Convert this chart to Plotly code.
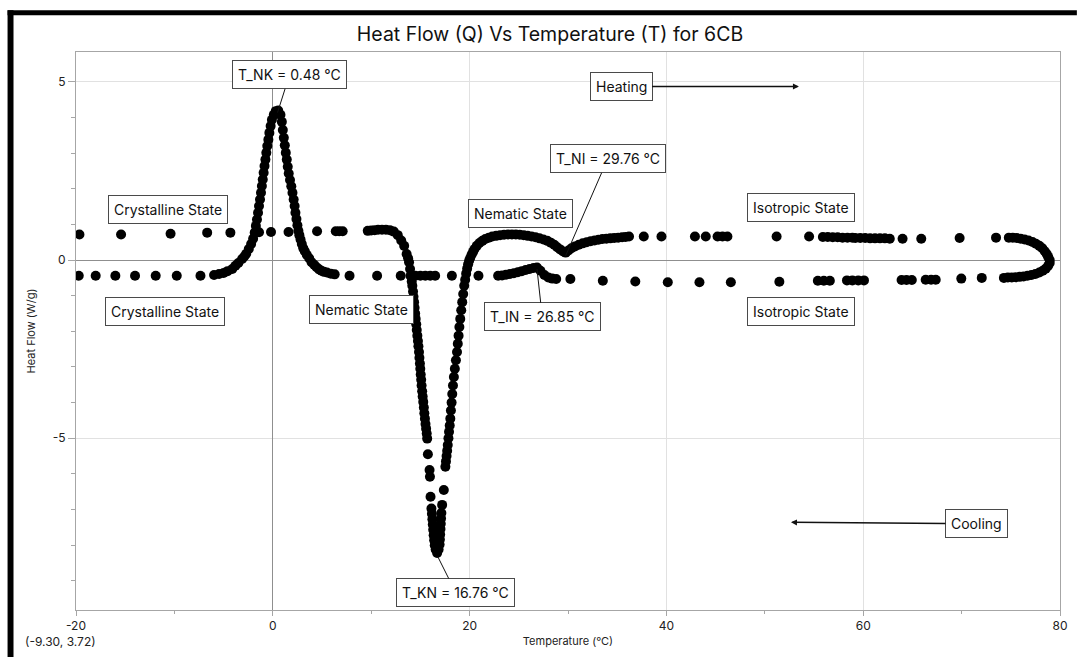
import plotly.graph_objects as go

# ---------------- data ----------------
heating_T = [
    -19.65, -15.42, -10.39, -6.67, -4.31, -1.40, -0.18, 1.60, 4.50, 6.40, 6.75, 7.10,
    9.65, 10.0, 10.35, 10.7, 11.1, 11.5, 11.9, 12.3, 12.7, 13.05, 13.35, 13.6, 13.75,
    13.85, 13.95, 14.05, 14.12, 14.18, 14.25, 14.3, 14.36, 14.41, 14.47, 14.52, 14.58,
    14.63, 14.69, 14.75, 14.8, 14.86, 14.9, 14.95, 14.99, 15.03, 15.08, 15.12, 15.18,
    15.23, 15.29, 15.35, 15.4, 15.46, 15.52, 15.58, 15.64, 15.69, 15.76, 15.93, 15.97,
    16.03, 16.12, 16.17, 16.22, 16.26, 16.3, 16.35, 16.4, 16.46, 16.55, 16.7, 16.85,
    16.95, 16.98, 17.01, 17.04, 17.07, 17.1, 17.13, 17.21, 17.38, 17.54, 17.6, 17.66,
    17.72, 17.78, 17.85, 17.91, 17.98, 18.04, 18.1, 18.17, 18.24, 18.31, 18.4, 18.5,
    18.61, 18.72, 18.8, 18.88, 18.96, 19.05, 19.15, 19.25, 19.35, 19.45, 19.55, 19.65,
    19.75, 19.85, 19.95, 20.06, 20.2, 20.35, 20.5, 20.73, 21.0, 21.3, 21.6, 21.95,
    22.3, 22.7, 23.1, 23.5, 23.9, 24.3, 24.7, 25.1, 25.5, 25.9, 26.3, 26.7, 27.1, 27.5,
    27.9, 28.25, 28.6, 28.9, 29.2, 29.5, 29.76, 30.05, 30.35, 30.7, 31.1, 31.5, 31.9,
    32.3, 32.7, 33.1, 33.5, 33.9, 34.3, 34.7, 35.1, 35.5, 35.85, 36.2, 37.7, 39.5,
    42.9, 44.0, 45.2, 45.7, 46.2, 51.2, 54.5, 55.9, 56.4, 56.9, 57.4, 57.9, 58.4, 58.9,
    59.2, 59.7, 60.2, 60.7, 61.2, 61.7, 62.2, 62.7, 64.0, 65.9, 69.8, 73.5, 74.8, 75.2,
    75.6, 76.0, 76.4, 76.8, 77.2, 77.55, 77.9, 78.2, 78.45, 78.65, 78.8, 78.95,
]
heating_Q = [
    0.72, 0.72, 0.74, 0.77, 0.77, 0.78, 0.79, 0.79, 0.81, 0.81, 0.81, 0.81,
    0.82, 0.83, 0.84, 0.85, 0.85, 0.85, 0.84, 0.80, 0.70, 0.55, 0.40, 0.17, 0.05,
    -0.06, -0.25, -0.45, -0.60, -0.72, -0.88, -1.03, -1.18, -1.34, -1.50, -1.65, -1.80,
    -1.96, -2.12, -2.27, -2.42, -2.58, -2.74, -2.90, -3.05, -3.21, -3.36, -3.52, -3.68,
    -3.83, -3.98, -4.14, -4.30, -4.45, -4.60, -4.73, -4.87, -5.01, -5.45, -5.89, -6.08,
    -6.64, -6.97, -7.12, -7.27, -7.42, -7.57, -7.72, -7.86, -8.00, -8.12, -8.22, -8.12,
    -7.98, -7.84, -7.70, -7.55, -7.40, -7.25, -7.10, -6.87, -6.45, -5.80, -5.65, -5.50,
    -5.35, -5.19, -5.00, -4.82, -4.64, -4.45, -4.22, -4.00, -3.76, -3.52, -3.28, -3.05,
    -2.81, -2.58, -2.35, -2.12, -1.88, -1.65, -1.41, -1.18, -0.95, -0.72, -0.55, -0.38,
    -0.24, -0.12, -0.02, 0.06, 0.15, 0.23, 0.31, 0.40, 0.48, 0.54, 0.59, 0.63,
    0.66, 0.68, 0.70, 0.71, 0.72, 0.72, 0.72, 0.71, 0.70, 0.68, 0.66, 0.64, 0.61, 0.58,
    0.54, 0.49, 0.43, 0.36, 0.30, 0.24, 0.21, 0.27, 0.33, 0.38, 0.43, 0.47, 0.50,
    0.53, 0.55, 0.57, 0.59, 0.60, 0.61, 0.62, 0.63, 0.64, 0.65, 0.66, 0.66, 0.66,
    0.66, 0.66, 0.66, 0.66, 0.66, 0.66, 0.66, 0.65, 0.65, 0.64, 0.64, 0.63, 0.63, 0.63,
    0.62, 0.62, 0.62, 0.61, 0.61, 0.61, 0.61, 0.60, 0.60, 0.60, 0.62, 0.63, 0.63, 0.63,
    0.62, 0.60, 0.58, 0.55, 0.51, 0.46, 0.40, 0.33, 0.25, 0.17, 0.09, 0.00,
]

cooling_T = [
    78.95, 78.8, 78.55, 78.25, 77.9, 77.5, 77.1, 76.7, 76.3, 75.9, 75.5, 75.1, 74.7, 74.3,
    72.05, 69.97, 67.37, 66.9, 66.35, 64.94, 64.4, 63.9, 60.08, 59.5, 58.9, 58.35,
    56.61, 56.0, 55.39, 51.48, 46.55, 43.36, 40.14, 36.84, 33.54, 30.24,
    28.8, 28.4, 28.0, 27.6, 27.2, 26.85, 26.5, 26.1, 25.7, 25.3, 24.9, 24.5, 24.1,
    23.7, 23.3, 22.9, 20.9, 18.2, 16.5, 16.0, 15.5, 15.0, 14.5, 14.0, 13.0, 10.6, 7.8,
    6.29, 5.9, 5.5, 5.2, 4.94, 4.7, 4.45, 4.2, 3.94, 3.7, 3.45, 3.25, 3.10, 2.95, 2.82,
    2.7, 2.6, 2.5, 2.4, 2.3, 2.22, 2.12, 2.0, 1.88, 1.75, 1.62, 1.52, 1.42, 1.32, 1.22,
    1.12, 1.02, 0.92, 0.78, 0.55, 0.3, 0.1, -0.09, -0.22, -0.35, -0.45, -0.56, -0.66,
    -0.75, -0.84, -0.93, -1.02, -1.11, -1.20, -1.30, -1.40, -1.50, -1.61, -1.72, -1.84,
    -2.0, -2.2, -2.44, -2.7, -2.9, -3.12, -3.5, -3.8, -4.12, -4.6, -5.0, -5.46, -5.97,
    -7.35, -9.76, -11.9, -14.0, -16.0, -18.0, -19.72,
]
cooling_Q = [
    -0.08, -0.16, -0.24, -0.30, -0.35, -0.39, -0.42, -0.44, -0.46, -0.47, -0.48, -0.49, -0.49, -0.50,
    -0.50, -0.52, -0.55, -0.55, -0.55, -0.56, -0.56, -0.56, -0.57, -0.57, -0.57, -0.57,
    -0.58, -0.58, -0.58, -0.61, -0.62, -0.62, -0.62, -0.60, -0.58, -0.53,
    -0.53, -0.52, -0.49, -0.42, -0.30, -0.21, -0.22, -0.25, -0.28, -0.31, -0.34, -0.37, -0.39,
    -0.41, -0.43, -0.44, -0.44, -0.44, -0.44, -0.44, -0.44, -0.44, -0.44, -0.44, -0.44, -0.44, -0.44,
    -0.40, -0.38, -0.35, -0.33, -0.30, -0.26, -0.20, -0.13, -0.06, 0.05, 0.15, 0.25, 0.33, 0.45, 0.58,
    0.70, 0.82, 0.98, 1.15, 1.33, 1.52, 1.70, 1.89, 2.07, 2.25, 2.43, 2.62, 2.82, 3.01, 3.22,
    3.43, 3.65, 3.88, 4.08, 4.20, 4.18, 4.08, 3.94, 3.76, 3.57, 3.38, 3.20, 3.01,
    2.82, 2.64, 2.45, 2.26, 2.08, 1.89, 1.70, 1.52, 1.33, 1.14, 0.96, 0.77,
    0.60, 0.45, 0.31, 0.18, 0.10, 0.03, -0.08, -0.16, -0.25, -0.31, -0.36, -0.39, -0.42,
    -0.44, -0.44, -0.44, -0.44, -0.44, -0.44, -0.44,
]

x_tick_vals = [-20, 0, 20, 40, 60, 80]
x_tick_text = ["-20", "0", "20", "40", "60", "80"]
y_tick_vals = [-5, 0, 5]
y_tick_text = ["-5", "0", "5"]

title_text = "Heat Flow (Q) Vs Temperature (T) for 6CB"
x_title = "Temperature (°C)"
y_title = "Heat Flow (W/g)"
cursor_text = "(-9.30, 3.72)"

# labelled transitions: (text, label T, label Q, point T, point Q)
transition_labels = [
    ("T_NK = 0.48 °C", 1.70, 5.20, 0.48, 4.14),
    ("T_KN = 16.76 °C", 18.59, -9.33, 16.76, -8.32),
    ("T_NI = 29.76 °C", 34.03, 2.84, 29.76, 0.12),
    ("T_IN = 26.85 °C", 27.38, -1.59, 26.85, -0.25),
]
direction_labels = [
    ("Heating", 35.39, 4.87, 53.47, 4.87),
    ("Cooling", 71.51, -7.40, 52.66, -7.36),
]
state_labels = [
    ("Crystalline State", -10.70, 1.41),
    ("Crystalline State", -11.00, -1.44),
    ("Nematic State", 9.04, -1.40),
    ("Nematic State", 25.16, 1.30),
    ("Isotropic State", 53.68, 1.48),
    ("Isotropic State", 53.68, -1.44),
]

# ---------------- layout geometry ----------------
W, H = 1080, 657
ML, MR, MT, MB = 76, 12, 52, 45
PW, PH = W - ML - MR, H - MT - MB
FONT = "Inter, 'Liberation Sans', Arial, sans-serif"


def px_to_paper_x(px):
    return (px - ML) / PW


def py_to_paper_y(py):
    return (H - MB - py) / PH


fig = go.Figure()
fig.add_trace(go.Scatter(x=heating_T, y=heating_Q, mode="markers",
                         marker=dict(size=10, color="black"), showlegend=False,
                         name="Heating"))
fig.add_trace(go.Scatter(x=cooling_T, y=cooling_Q, mode="markers",
                         marker=dict(size=10, color="black"), showlegend=False,
                         name="Cooling"))

box = dict(bordercolor="#4a4a4a", borderwidth=1, borderpad=5, bgcolor="white",
           font=dict(family=FONT, size=14, color="#111"))
annotations = []
for text, lx, ly, tx, ty in transition_labels:
    annotations.append(dict(text=text, x=tx, y=ty, ax=lx, ay=ly, axref="x", ayref="y",
                            xref="x", yref="y", showarrow=True, arrowhead=0,
                            arrowwidth=1, arrowcolor="#111", **box))
for text, lx, ly, tx, ty in direction_labels:
    annotations.append(dict(text=text, x=tx, y=ty, ax=lx, ay=ly, axref="x", ayref="y",
                            xref="x", yref="y", showarrow=True, arrowhead=2,
                            arrowsize=0.8, arrowwidth=1.5, arrowcolor="#111", **box))
for text, lx, ly in state_labels:
    annotations.append(dict(text=text, x=lx, y=ly, xref="x", yref="y",
                            showarrow=False, **box))
annotations.append(dict(text=cursor_text, xref="paper", yref="paper",
                        x=px_to_paper_x(60), y=py_to_paper_y(644),
                        xanchor="center", yanchor="middle", showarrow=False,
                        font=dict(family=FONT, size=12, color="#222")))

# black frame (top and left edges of the screenshot)
shapes = [
    dict(type="rect", xref="paper", yref="paper",
         x0=px_to_paper_x(7), x1=px_to_paper_x(13),
         y0=py_to_paper_y(H + 5), y1=py_to_paper_y(10),
         fillcolor="black", line=dict(width=0), layer="above"),
    dict(type="rect", xref="paper", yref="paper",
         x0=px_to_paper_x(7), x1=px_to_paper_x(W + 5),
         y0=py_to_paper_y(15), y1=py_to_paper_y(10),
         fillcolor="black", line=dict(width=0), layer="above"),
]

axis_common = dict(showline=True, linecolor="#a6a6a6", linewidth=1, mirror=True,
                   gridcolor="#e1e1e1", gridwidth=1, zeroline=True,
                   zerolinecolor="#8f8f8f", zerolinewidth=1,
                   ticks="outside", tickcolor="#a6a6a6",
                   tickfont=dict(family=FONT, size=12, color="#222"))

fig.update_layout(
    width=W, height=H,
    margin=dict(l=ML, r=MR, t=MT, b=MB),
    paper_bgcolor="white", plot_bgcolor="white",
    title=dict(text=title_text, x=550 / W, xref="container", xanchor="center",
               y=1 - 34 / H, yref="container", yanchor="middle",
               font=dict(family=FONT, size=19.5, color="#111")),
    xaxis=dict(range=[-20, 80], tickvals=x_tick_vals, ticktext=x_tick_text, ticklen=5,
               minor=dict(dtick=10, tick0=-20, ticks="outside", ticklen=3,
                          tickcolor="#a6a6a6", showgrid=False),
               title=dict(text=x_title, standoff=4,
                          font=dict(family=FONT, size=11, color="#222")),
               **axis_common),
    yaxis=dict(range=[-9.82, 5.84], tickvals=y_tick_vals, ticktext=y_tick_text, ticklen=7,
               minor=dict(dtick=1, tick0=0, ticks="outside", ticklen=4,
                          tickcolor="#a6a6a6", showgrid=False),
               title=dict(text=y_title, standoff=14,
                          font=dict(family=FONT, size=11, color="#222")),
               **axis_common),
    annotations=annotations,
    shapes=shapes,
)

fig.write_html("out.html")
